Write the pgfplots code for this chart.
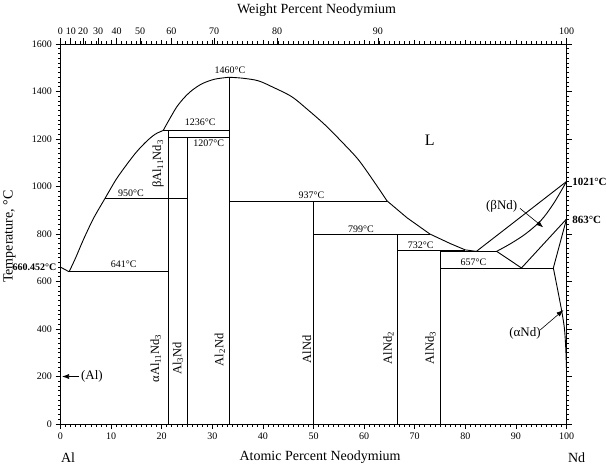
\documentclass[border=0pt]{standalone}
\usepackage{fontspec}
\setmainfont{Liberation Serif}
\usepackage{pgfplots}
\pgfplotsset{compat=1.18}
\usetikzlibrary{arrows.meta}
\begin{document}
\begin{tikzpicture}
\tikzset{
 tl/.style={font=\fontsize{10}{12}\selectfont},
 pl/.style={font=\fontsize{12.5}{14}\selectfont,rotate=90},
}
\pgfplotsset{
 base/.style={width=506pt,height=380pt,scale only axis,xmin=0,xmax=100,ymin=0,ymax=1600,clip=false,
   tick align=outside,/pgf/number format/assume math mode=true,
   /pgf/number format/set thousands separator={},
   tick label style={font=\fontsize{10}{12}\selectfont},
   major tick length=5pt,minor tick length=2.5pt,
   every tick/.style={black,line width=0.7pt},
   axis line style={line width=0.9pt}},
 ph/.style={black,line width=0.9pt,mark=none},
 ar/.style={black,line width=0.6pt,mark=none,-{Latex[length=7pt,width=5pt]}},
}
\begin{axis}[base,
  xtick={0,10,...,100}, minor xtick={0,1,...,100},
  ytick={0,200,...,1600}, minor ytick={0,20,...,1600},
  xtick pos=left, xticklabel pos=left, ytick pos=both, yticklabel pos=left]
% liquidus Al side
\addplot[ph] coordinates {(0,660.452) (1.7,641)};
\addplot[ph,smooth] coordinates {(1.7,641) (3,700) (4.5,775) (6.5,865) (8.8,950) (11,1030) (13,1090) (15,1145) (17,1190) (18.7,1220) (20.3,1236)};
\addplot[ph,smooth] coordinates {(20.3,1236) (21.5,1282) (23,1336) (24.5,1375) (26,1405) (28,1433) (30.5,1452) (33.3,1460)};
\addplot[ph,smooth] coordinates {(33.3,1460) (36,1456) (39.1,1445) (42,1418) (45.7,1378) (49,1321) (52.3,1259) (55.6,1188) (58.9,1112) (62.2,1013) (64.5,940)};
\addplot[ph] coordinates {(64.5,940) (68.5,868) (73,800) (77,760) (80,733) (82.2,727)};
% Nd side
\addplot[ph] coordinates {(82.2,727) (100,1021)};
\addplot[ph,smooth] coordinates {(86.2,727) (89,760) (92,802) (95,858) (97.5,930) (100,1021)};
\addplot[ph] coordinates {(86.2,727) (91.1,657) (100,863)};
\addplot[ph] coordinates {(100,863) (97.4,657)};
\addplot[ph,smooth] coordinates {(97.4,657) (98.3,560) (99.1,470) (99.6,400) (99.85,320) (100,230)};
% horizontals
\addplot[ph] coordinates {(1.7,641) (21.43,641)};
\addplot[ph] coordinates {(8.8,950) (25,950)};
\addplot[ph] coordinates {(20.3,1236) (33.33,1236)};
\addplot[ph] coordinates {(21.43,1207) (33.33,1207)};
\addplot[ph] coordinates {(33.33,937) (64.5,937)};
\addplot[ph] coordinates {(50,799) (73,799)};
\addplot[ph] coordinates {(66.67,732) (79.9,732)};
\addplot[ph] coordinates {(75,727) (86.2,727)};
\addplot[ph] coordinates {(75,657) (97.4,657)};
% verticals
\addplot[ph] coordinates {(21.43,0) (21.43,1236)};
\addplot[ph] coordinates {(25,0) (25,1207)};
\addplot[ph] coordinates {(33.33,0) (33.33,1460)};
\addplot[ph] coordinates {(50,0) (50,937)};
\addplot[ph] coordinates {(66.67,0) (66.67,799)};
\addplot[ph] coordinates {(75,0) (75,732)};
% arrows
\addplot[ar] coordinates {(3.7,200) (0.3,200)};
\addplot[ar] coordinates {(90.8,908) (95.4,828)};
\addplot[ar] coordinates {(94.8,396) (99.4,480)};
% temperature labels
\node[tl] at (axis cs:33.5,1490) {1460°C};
\node[tl] at (axis cs:27.6,1270) {1236°C};
\node[tl] at (axis cs:29.3,1182) {1207°C};
\node[tl] at (axis cs:13.9,971) {950°C};
\node[tl] at (axis cs:49.6,964) {937°C};
\node[tl] at (axis cs:59.4,821) {799°C};
\node[tl] at (axis cs:71.2,754) {732°C};
\node[tl] at (axis cs:81.6,683) {657°C};
\node[tl] at (axis cs:12.5,672) {641°C};
\node[font=\fontsize{16}{18}\selectfont] at (axis cs:73,1196) {L};
\node[font=\fontsize{13}{15}\selectfont] at (axis cs:6.2,200) {(Al)};
\node[font=\fontsize{13}{15}\selectfont] at (axis cs:87.2,915) {(βNd)};
\node[font=\fontsize{13}{15}\selectfont] at (axis cs:91.8,382) {(αNd)};
\node[font=\bfseries\fontsize{10}{12}\selectfont,anchor=east,inner sep=1pt] at (axis cs:-0.6,662) {660.452°C};
\node[font=\bfseries\fontsize{11}{12}\selectfont,anchor=west,inner sep=1pt] at (axis cs:100.9,1021) {1021°C};
\node[font=\bfseries\fontsize{11}{12}\selectfont,anchor=west,inner sep=1pt] at (axis cs:100.9,860) {863°C};
% phase labels
\node[pl] at (axis cs:19.3,1095) {βAl\textsubscript{11}Nd\textsubscript{3}};
\node[pl] at (axis cs:18.8,276) {αAl\textsubscript{11}Nd\textsubscript{3}};
\node[pl] at (axis cs:23.2,276) {Al\textsubscript{3}Nd};
\node[pl] at (axis cs:31.5,312) {Al\textsubscript{2}Nd};
\node[pl] at (axis cs:48.7,315) {AlNd};
\node[pl] at (axis cs:64.8,320) {AlNd\textsubscript{2}};
\node[pl] at (axis cs:73.1,320) {AlNd\textsubscript{3}};
% axis titles
\node[font=\fontsize{14}{16}\selectfont] at (axis cs:51.3,-139) {Atomic Percent Neodymium};
\node[font=\fontsize{14}{16}\selectfont] at (axis cs:50.6,1743) {Weight Percent Neodymium};
\node[font=\fontsize{14}{16}\selectfont,rotate=90,inner sep=0pt] at (axis cs:-10.1,789) {Temperature, °C};
\node[font=\fontsize{14}{16}\selectfont] at (axis cs:1.5,-143) {Al};
\node[font=\fontsize{14}{16}\selectfont] at (axis cs:102,-143) {Nd};
\end{axis}
\begin{axis}[base, axis x line*=top, axis y line=none,
  xtick={0,2.036,4.467,7.422,11.087,15.757,21.910,30.384,42.798,62.735,100},
  xticklabels={0,10,20,30,40,50,60,70,80,90,100},
  minor xtick={0,1,...,100}, major tick length=6pt]
\end{axis}
\begin{axis}[base, axis x line*=top, axis y line=none,
  xtick={10,20,...,90}, xticklabels={}, major tick length=4pt]
\end{axis}
\pgfresetboundingbox
\path[use as bounding box] (-60.5pt,-43pt) rectangle (546.5pt,424pt);
\end{tikzpicture}
\end{document}
